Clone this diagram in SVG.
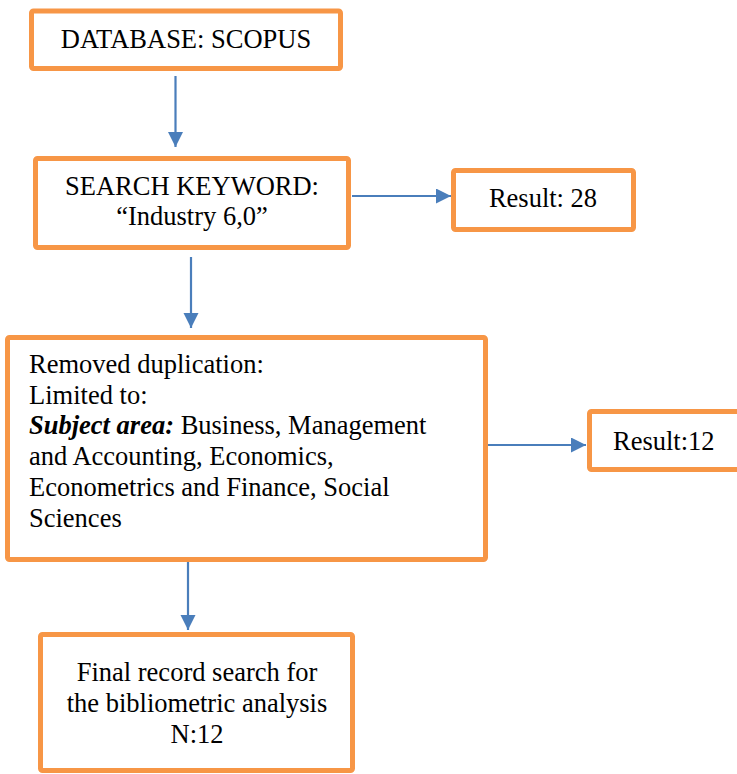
<svg xmlns="http://www.w3.org/2000/svg" width="737" height="774" viewBox="0 0 737 774">
  <style>
    .box { fill: #ffffff; stroke: #F79646; stroke-width: 5; stroke-linejoin: round; }
    .t { font-family: "Liberation Serif", "Times New Roman", serif; font-size: 26.5px; fill: #000000; }
    .c { text-anchor: middle; }
    .conn { stroke: #4A7EBB; stroke-width: 2.2; fill: none; marker-end: url(#arr); }
  </style>
  <defs>
    <marker id="arr" markerUnits="userSpaceOnUse" markerWidth="16" markerHeight="16" refX="15" refY="7.5" orient="auto">
      <path d="M0,0 L15,7.5 L0,15 z" fill="#4A7EBB"/>
    </marker>
  </defs>
  <rect width="737" height="774" fill="#ffffff"/>

  <g id="connectors">
    <line class="conn" x1="175.5" y1="76" x2="175.5" y2="147"/>
    <line class="conn" x1="352" y1="196" x2="451" y2="196"/>
    <line class="conn" x1="191" y1="257" x2="191" y2="328"/>
    <line class="conn" x1="488" y1="445" x2="586" y2="445"/>
    <line class="conn" x1="188" y1="562" x2="188" y2="630"/>
  </g>

  <g id="database">
    <rect class="box" x="31.5" y="11" width="309" height="57.5" rx="2"/>
    <text class="t c" x="186" y="48">DATABASE: SCOPUS</text>
  </g>

  <g id="search">
    <rect class="box" x="35.5" y="158.5" width="313" height="89" rx="2"/>
    <text class="t c" x="192" y="195">SEARCH KEYWORD:</text>
    <text class="t c" x="192" y="225">“Industry 6,0”</text>
  </g>

  <g id="result28">
    <rect class="box" x="453.5" y="170.5" width="180" height="59" rx="2"/>
    <text class="t c" x="543" y="207">Result: 28</text>
  </g>

  <g id="filter">
    <rect class="box" x="7.5" y="337.5" width="478" height="222" rx="2"/>
    <text class="t" x="29" y="373">Removed duplication:</text>
    <text class="t" x="29" y="404">Limited to:</text>
    <text class="t" x="29" y="434"><tspan font-weight="bold" font-style="italic">Subject area:</tspan> Business, Management</text>
    <text class="t" x="29" y="465">and Accounting, Economics,</text>
    <text class="t" x="29" y="496">Econometrics and Finance, Social</text>
    <text class="t" x="29" y="527">Sciences</text>
  </g>

  <g id="result12">
    <rect class="box" x="589.5" y="411.5" width="200" height="58" rx="2"/>
    <text class="t" x="613" y="450">Result:12</text>
  </g>

  <g id="final">
    <rect class="box" x="40.5" y="634.5" width="312" height="136" rx="2"/>
    <text class="t c" x="197" y="681">Final record search for</text>
    <text class="t c" x="197" y="712">the bibliometric analysis</text>
    <text class="t c" x="197" y="743">N:12</text>
  </g>
</svg>
